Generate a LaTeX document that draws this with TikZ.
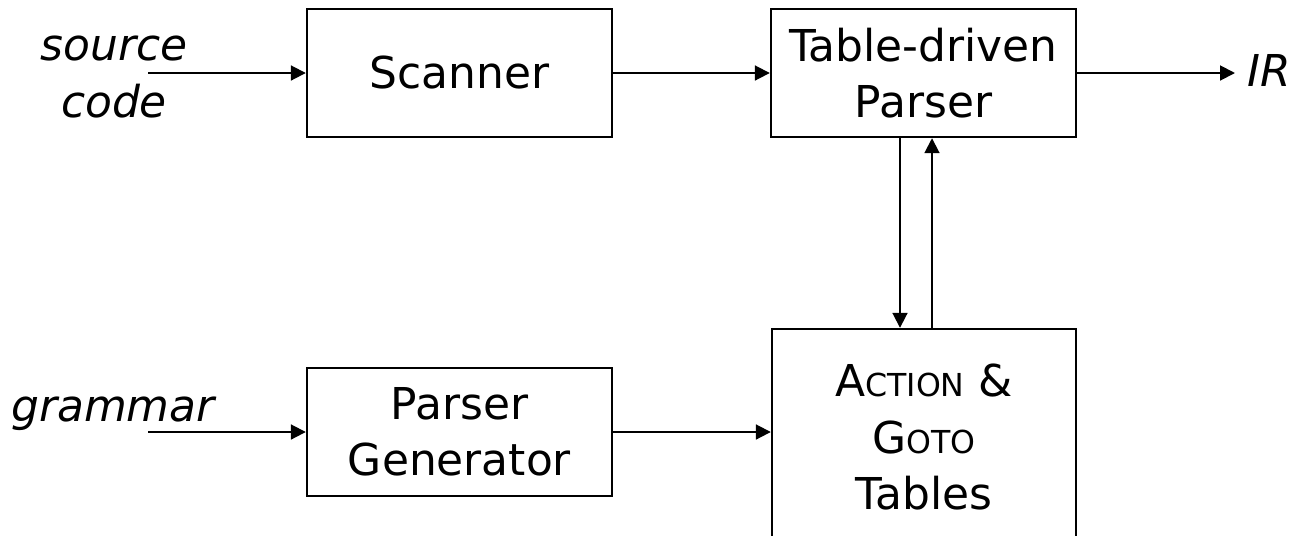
\documentclass[tikz,border=0pt]{standalone}
\usepackage{fontspec}
\setmainfont{DejaVu Sans}[ItalicFont={DejaVu Sans Oblique}]
\usetikzlibrary{arrows.meta}
\newcommand\fakesc[1]{{\fontsize{18}{32}\selectfont #1}}
\begin{document}
\begin{tikzpicture}[x=0.02cm,y=-0.02cm,
  box/.style={draw,line width=1.4pt,inner sep=0pt,align=center,font=\fontsize{25}{32}\selectfont},
  arr/.style={line width=1.1pt,-{Triangle[length=8.5pt,width=8.5pt]}},
  lbl/.style={font=\fontsize{25}{32}\selectfont\itshape,align=center,inner sep=0pt}]
\useasboundingbox (0,0) rectangle (1295,535);
\clip (0,0) rectangle (1295,535);
\node[box,minimum width=6.1cm,minimum height=2.56cm] (scanner) at (459.5,73) {Scanner};
\node[box,minimum width=6.1cm,minimum height=2.56cm] (parser) at (923.5,73) {Table-driven\\Parser};
\node[box,minimum width=6.1cm,minimum height=2.56cm] (pg) at (459.5,432) {Parser\\Generator};
\node[box,minimum width=6.08cm,minimum height=4.32cm] (tables) at (924,437) {A\fakesc{CTION} \&\\G\fakesc{OTO}\\Tables};
\node[lbl] (src) at (114,77) {source\\code};
\node[lbl] (gram) at (113,414) {grammar};
\node[lbl] (ir) at (1269,70) {IR};
\coordinate (srcend) at (148,73);
\coordinate (gramend) at (148,432);
\coordinate (irend) at (1235,73);
\coordinate (downx) at (900,0);
\coordinate (upx) at (932,0);
\draw[arr] (srcend) -- (scanner.west);
\draw[arr] (scanner.east) -- (parser.west);
\draw[arr] (parser.east) -- (irend);
\draw[arr] (gramend) -- (pg.west);
\draw[arr] (pg.east) -- (pg.east -| tables.west);
\draw[arr] (parser.south -| downx) -- (tables.north -| downx);
\draw[arr] (tables.north -| upx) -- (parser.south -| upx);
\end{tikzpicture}
\end{document}
